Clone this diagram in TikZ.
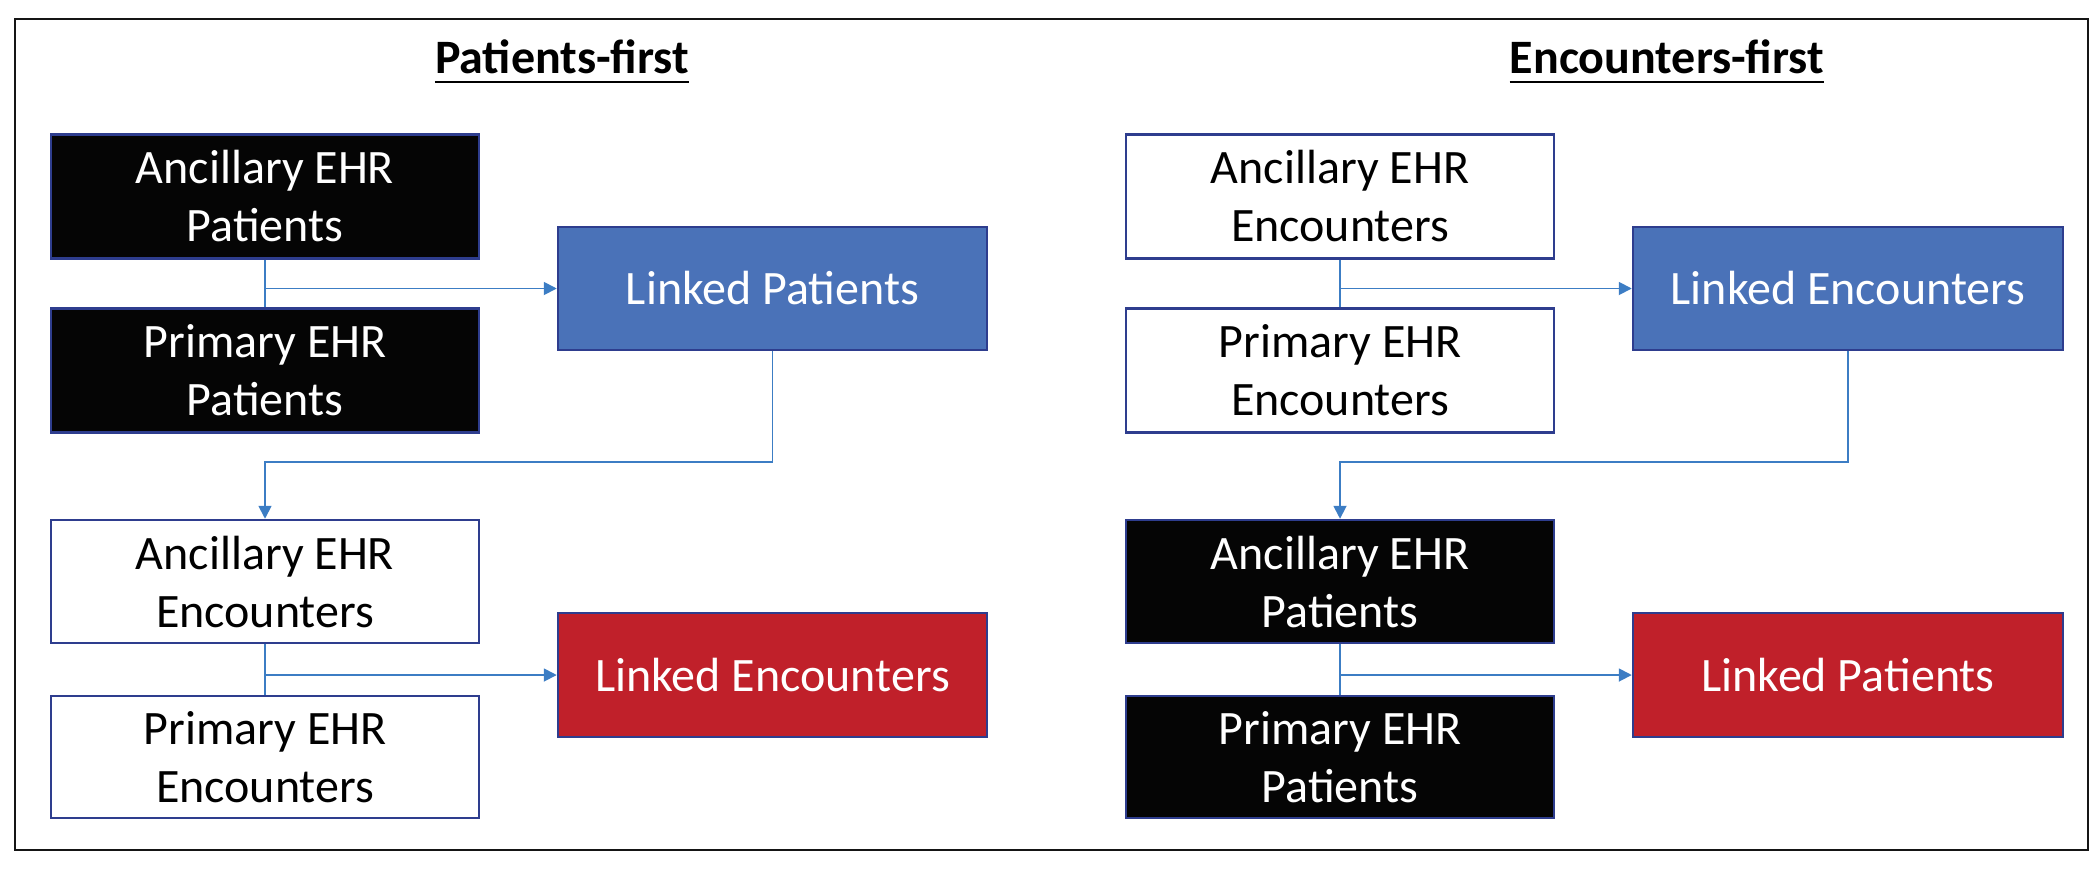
\documentclass[tikz,border=0pt]{standalone}
\usepackage{fontspec}
\setmainfont{Carlito}
\usetikzlibrary{arrows.meta}
\definecolor{boxline}{HTML}{2E3D8E}
\definecolor{fillblack}{HTML}{050505}
\definecolor{fillblue}{HTML}{4A72B8}
\definecolor{fillred}{HTML}{C0202A}
\definecolor{conn}{HTML}{3C7DC4}
\definecolor{frame}{HTML}{151515}
\tikzset{
  box/.style={draw=boxline, line width=2.5pt, minimum width=428pt, minimum height=124pt,
    inner sep=0pt, align=center, font=\fontsize{48}{58}\selectfont},
  darkbox/.style={box, fill=fillblack, text=white},
  whitebox/.style={box, fill=white, text=black},
  bluebox/.style={box, fill=fillblue, text=white},
  redbox/.style={box, fill=fillred, text=white},
  conline/.style={draw=conn, line width=1.8pt},
  conarrow/.style={conline, -{Triangle[length=13pt,width=13pt]}},
  title/.style={inner sep=0pt, anchor=base, font=\fontsize{48}{56}\selectfont\bfseries}
}
\begin{document}
\begin{tikzpicture}[x=1pt,y=-1pt]
\useasboundingbox (0,0) rectangle (2100,868);
\draw[frame, line width=2.6pt] (15,19) rectangle (2088,850);

% Titles
\node[title] (t1) at (562,73) {Patients-first};
\node[title] (t2) at (1667,73) {Encounters-first};
\draw[line width=2.4pt] ([yshift=-9pt]t1.base west) -- ([yshift=-9pt]t1.base east);
\draw[line width=2.4pt] ([yshift=-9pt]t2.base west) -- ([yshift=-9pt]t2.base east);

% Left: Patients-first
\node[darkbox] (a1) at (265,196.5) {Ancillary EHR\\Patients};
\node[darkbox] (a2) at (265,370.5) {Primary EHR\\Patients};
\node[bluebox, minimum width=429pt, minimum height=123pt] (lp1) at (772.5,288.5) {Linked Patients};
\node[whitebox, minimum height=123pt] (a3) at (265,581.5) {Ancillary EHR\\Encounters};
\node[whitebox, minimum height=122pt] (a4) at (265,757) {Primary EHR\\Encounters};
\node[redbox, minimum width=429pt] (le1) at (772.5,675) {Linked Encounters};

% Right: Encounters-first
\node[whitebox] (b1) at (1340,196.5) {Ancillary EHR\\Encounters};
\node[whitebox] (b2) at (1340,370.5) {Primary EHR\\Encounters};
\node[bluebox, minimum width=430pt, minimum height=123pt] (le2) at (1848,288.5) {Linked Encounters};
\node[darkbox, minimum height=123pt] (b3) at (1340,581.5) {Ancillary EHR\\Patients};
\node[darkbox, minimum height=122pt] (b4) at (1340,757) {Primary EHR\\Patients};
\node[redbox, minimum width=430pt] (lp2) at (1848,675) {Linked Patients};

\coordinate (m1) at (0,462);
\coordinate (m2) at (0,462);

% Left connectors
\draw[conline] (a1.south) -- (a2.north);
\draw[conarrow] (a1.south |- lp1.west) -- (lp1.west);
\draw[conarrow] (lp1.south) -- (lp1.south |- m1) -- (a3.north |- m1) -- (a3.north);
\draw[conline] (a3.south) -- (a4.north);
\draw[conarrow] (a3.south |- le1.west) -- (le1.west);

% Right connectors
\draw[conline] (b1.south) -- (b2.north);
\draw[conarrow] (b1.south |- le2.west) -- (le2.west);
\draw[conarrow] (le2.south) -- (le2.south |- m2) -- (b3.north |- m2) -- (b3.north);
\draw[conline] (b3.south) -- (b4.north);
\draw[conarrow] (b3.south |- lp2.west) -- (lp2.west);
\end{tikzpicture}
\end{document}
